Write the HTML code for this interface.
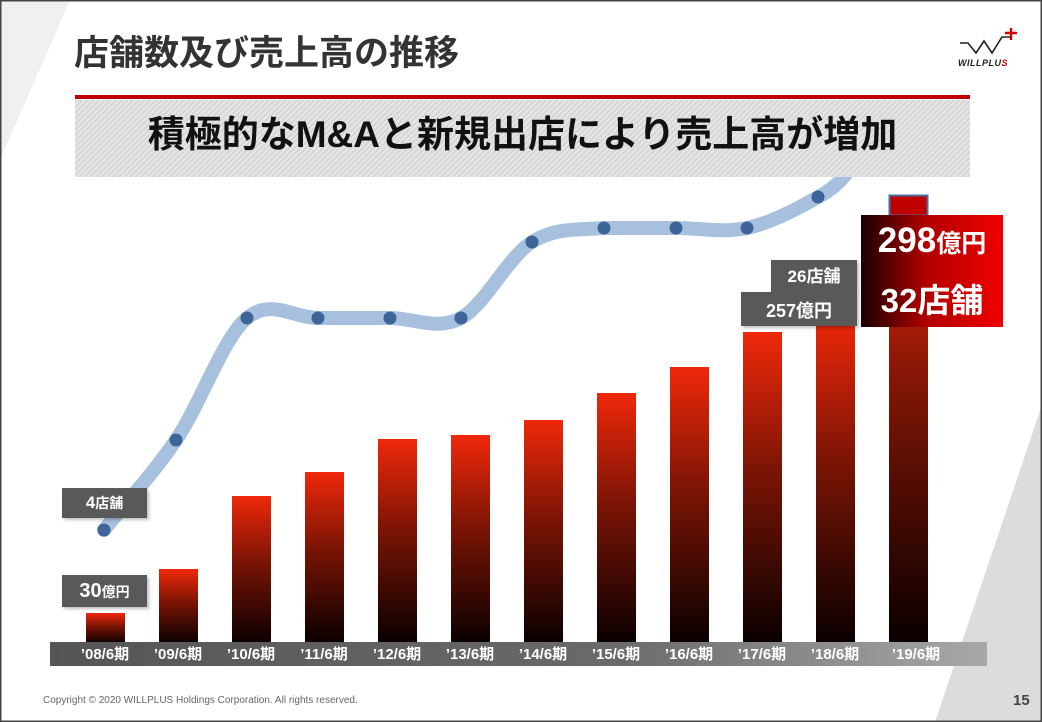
<!DOCTYPE html>
<html><head><meta charset="utf-8"><style>
*{margin:0;padding:0;box-sizing:border-box}
body{width:1042px;height:722px;overflow:hidden;background:#fff;font-family:"Liberation Sans","Noto Sans CJK JP",sans-serif;position:relative}
.abs{position:absolute}
.lbl{position:absolute;background:#595959;color:#fff;font-weight:bold;text-align:center;box-shadow:2px 2px 3px rgba(0,0,0,.25)}
</style></head><body>
<svg class="abs" style="left:0;top:0" width="1042" height="722">
<defs>
<linearGradient id="bg" x1="0" y1="0" x2="0" y2="1"><stop offset="0" stop-color="#f0280a"/><stop offset="0.45" stop-color="#7a1405"/><stop offset="1" stop-color="#0a0000"/></linearGradient>
<linearGradient id="ax" x1="0" x2="1"><stop offset="0" stop-color="#555"/><stop offset="0.6" stop-color="#6a6a6a"/><stop offset="1" stop-color="#a8a8a8"/></linearGradient>
<linearGradient id="rb" x1="0" x2="1"><stop offset="0" stop-color="#1a0000"/><stop offset="0.45" stop-color="#b00000"/><stop offset="1" stop-color="#f00000"/></linearGradient>
<pattern id="hat" width="4" height="4" patternUnits="userSpaceOnUse" patternTransform="rotate(45)"><rect width="4" height="4" fill="#e6e6e6"/><rect width="2" height="4" fill="#d6d6d6"/></pattern>
</defs>
<polygon points="0,0 70,0 0,160" fill="#f0f0f0"/>
<polygon points="1042,405 1042,722 935,722" fill="#dcdcdc"/>
<rect x="0.5" y="0.5" width="1041" height="721" fill="none" stroke="#444" stroke-width="2"/>
<path d="M104,530 C128,500 152,475 176,440 C200,405 223,338 247,318 C271,298 294,318 318,318 C342,318 366,318 390,318 C414,318 437,331 461,318 C485,305 508,257 532,242 C556,227 580,230 604,228 C628,228 652,228 676,228 C700,228 723,233 747,228 C771,223 799,208 818,197 C840,186 850,170 862,150" fill="none" stroke="#a7c0de" stroke-width="14" stroke-linecap="round"/>
<g fill="#3d6598">
<circle cx="104" cy="530" r="6.5"/><circle cx="176" cy="440" r="6.5"/><circle cx="247" cy="318" r="6.5"/><circle cx="318" cy="318" r="6.5"/><circle cx="390" cy="318" r="6.5"/><circle cx="461" cy="318" r="6.5"/><circle cx="532" cy="242" r="6.5"/><circle cx="604" cy="228" r="6.5"/><circle cx="676" cy="228" r="6.5"/><circle cx="747" cy="228" r="6.5"/><circle cx="818" cy="197" r="6.5"/>
</g>
<rect x="75" y="100" width="895" height="77" fill="url(#hat)"/>
<rect x="75" y="95" width="895" height="4" fill="#c00000"/>
<g fill="url(#bg)">
<rect x="86" y="613" width="39" height="30"/>
<rect x="159" y="569" width="39" height="74"/>
<rect x="232" y="496" width="39" height="147"/>
<rect x="305" y="472" width="39" height="171"/>
<rect x="378" y="439" width="39" height="204"/>
<rect x="451" y="435" width="39" height="208"/>
<rect x="524" y="420" width="39" height="223"/>
<rect x="597" y="393" width="39" height="250"/>
<rect x="670" y="367" width="39" height="276"/>
<rect x="743" y="332" width="39" height="311"/>
<rect x="816" y="315" width="39" height="328"/>
<rect x="889" y="195" width="39" height="448"/>
</g>
<rect x="889.5" y="195.5" width="38" height="20" fill="#c00000" stroke="#4a6fa5" stroke-width="2"/>
<rect x="50" y="642" width="937" height="24" fill="url(#ax)"/>
<g fill="#fff" font-weight="bold" font-size="15" text-anchor="middle" font-family="Liberation Sans,Noto Sans CJK JP,sans-serif">
<text x="105" y="659">’08/6期</text><text x="178" y="659">’09/6期</text><text x="251" y="659">’10/6期</text><text x="324" y="659">’11/6期</text><text x="397" y="659">’12/6期</text><text x="470" y="659">’13/6期</text><text x="543" y="659">’14/6期</text><text x="616" y="659">’15/6期</text><text x="689" y="659">’16/6期</text><text x="762" y="659">’17/6期</text><text x="835" y="659">’18/6期</text><text x="916" y="659">’19/6期</text>
</g>
<rect x="861" y="215" width="142" height="112" fill="url(#rb)"/>
<path d="M960,43 L968,43 L976,53 L984,41 L992,53 L1002,37 L1010,37" fill="none" stroke="#222" stroke-width="1.6"/>
<path d="M1011,28 V40 M1005,33 H1017" stroke="#d00000" stroke-width="2.4"/>
<text x="958" y="66" font-size="9" font-weight="bold" font-style="italic" fill="#222" letter-spacing="0.5" font-family="Liberation Sans,sans-serif">WILLPLU<tspan fill="#d00000">S</tspan></text>
</svg>
<div class="abs" style="left:74px;top:33px;font-size:35px;font-weight:bold;color:#333;line-height:42px">店舗数及び売上高の推移</div>
<div class="abs" style="left:75px;top:112px;width:895px;text-align:center;font-size:37px;font-weight:bold;color:#111;line-height:46px">積極的なM&amp;Aと新規出店により売上高が増加</div>
<div class="lbl" style="left:62px;top:488px;width:85px;height:30px;font-size:17px;line-height:30px">4<span style="font-size:14px">店舗</span></div>
<div class="lbl" style="left:62px;top:575px;width:85px;height:32px;font-size:20px;line-height:32px">30<span style="font-size:14px">億円</span></div>
<div class="lbl" style="left:771px;top:260px;width:86px;height:32px;font-size:17px;line-height:34px">26店舗</div>
<div class="lbl" style="left:741px;top:292px;width:116px;height:34px;font-size:18px;line-height:38px">257億円</div>
<div class="abs" style="left:861px;top:218px;width:142px;text-align:center;color:#fff;font-weight:bold;font-size:35px;line-height:46px">298<span style="font-size:25px">億円</span></div>
<div class="abs" style="left:861px;top:278px;width:142px;text-align:center;color:#fff;font-weight:bold;font-size:33px;line-height:46px">32店舗</div>
<div class="abs" style="left:43px;top:695px;font-size:10px;color:#666">Copyright © 2020 WILLPLUS Holdings Corporation. All rights reserved.</div>
<div class="abs" style="left:1013px;top:692px;font-size:15px;font-weight:bold;color:#444">15</div>
</body></html>
